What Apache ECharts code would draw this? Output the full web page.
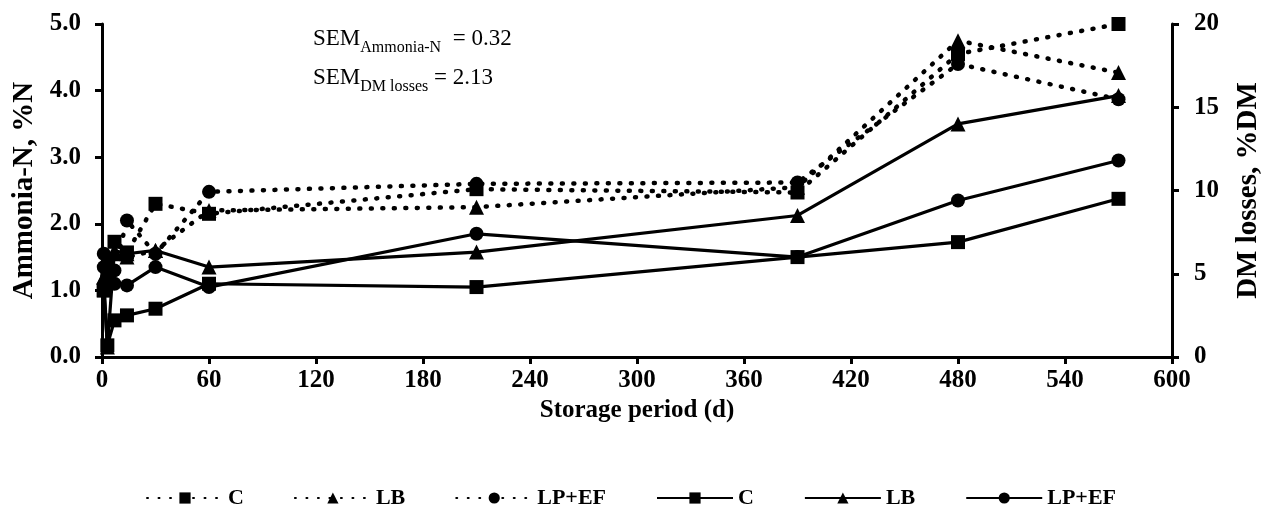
<!DOCTYPE html>
<html>
<head>
<meta charset="utf-8">
<script src="https://cdn.jsdelivr.net/npm/echarts@6/dist/echarts.min.js"></script>
<style>
  html, body { margin: 0; padding: 0; background: #fff; }
  #chart { width: 1262px; height: 517px; }
</style>
</head>
<body>
<div id="chart"></div>
<script>
// storage days
const days = [1, 3, 7, 14, 30, 60, 210, 390, 480, 570]

// Ammonia-N, %N (dotted, left axis)
const nh3C = [1.0, 1.3, 1.73, 1.57, 2.3, 2.15, 2.52, 2.47, 4.55, 5.0]
const nh3LB = [1.2, 1.5, 1.55, 1.5, 1.6, 2.2, 2.25, 2.55, 4.75, 4.27]
const nh3LPEF = [1.55, 1.2, 1.3, 2.05, 1.55, 2.48, 2.6, 2.62, 4.4, 3.87]

// DM losses, %DM (solid, right axis)
const dmC = [4.0, 0.7, 2.2, 2.5, 2.9, 4.4, 4.2, 6.0, 6.9, 9.5]
const dmLB = [4.8, 0.6, 6.4, 6.2, 6.4, 5.4, 6.3, 8.5, 14.0, 15.7]
const dmLPEF = [5.4, 4.6, 4.4, 4.3, 5.4, 4.2, 7.4, 6.0, 9.4, 11.8]

const xTicks = [0, 600, 60]
const leftTicks = [0, 5, 1]
const rightTicks = [0, 20, 5]

const serif = 'Liberation Serif'
const pair = (ys) => days.map((d, i) => [d, ys[i]])

function makeSeries(name, ys, symbol, dotted, axis) {
  return {
    name: name,
    type: 'line',
    yAxisIndex: axis,
    data: pair(ys),
    symbol: symbol,
    symbolSize: symbol === 'triangle' ? 15 : 14,
    itemStyle: { color: '#000' },
    lineStyle: dotted
      ? { color: '#000', width: 4.5, type: [1, 10.5], cap: 'round' }
      : { color: '#000', width: 3.2 },
    animation: false
  }
}

const series = [
  makeSeries('C#n', nh3C, 'rect', true, 0),
  makeSeries('LB#n', nh3LB, 'triangle', true, 0),
  makeSeries('LP+EF#n', nh3LPEF, 'circle', true, 0),
  makeSeries('C#d', dmC, 'rect', false, 1),
  makeSeries('LB#d', dmLB, 'triangle', false, 1),
  makeSeries('LP+EF#d', dmLPEF, 'circle', false, 1)
]

const tickFont = { color: '#000', fontFamily: serif, fontWeight: 'bold', fontSize: 25 }
const nameFont = { color: '#000', fontFamily: serif, fontWeight: 'bold', fontSize: 29 }
const axisLine = { show: true, lineStyle: { color: '#000', width: 3 } }
const axisTick = { show: true, inside: false, length: 7, lineStyle: { color: '#000', width: 3 } }

const semRich = {
  a: { fontFamily: serif, fontSize: 23, fill: '#000', lineHeight: 30, verticalAlign: 'bottom' },
  s: { fontFamily: serif, fontSize: 16, fill: '#000', lineHeight: 30, verticalAlign: 'bottom', padding: [0, 0, -6, 0] }
}

const chart = echarts.init(document.getElementById('chart'))
chart.setOption({
  backgroundColor: '#fff',
  animation: false,
  grid: { left: 102, right: 90, top: 24, bottom: 160, outerBoundsMode: 'none', containLabel: false },
  legend: {
    data: series.map(s => s.name),
    left: 'center',
    bottom: 3,
    itemWidth: 76,
    itemHeight: 14,
    itemGap: 50,
    formatter: name => name.split('#')[0],
    textStyle: { color: '#000', fontFamily: serif, fontWeight: 'bold', fontSize: 22 }
  },
  xAxis: {
    type: 'value',
    min: xTicks[0],
    max: xTicks[1],
    interval: xTicks[2],
    name: 'Storage period (d)',
    nameLocation: 'middle',
    nameGap: 40,
    nameTextStyle: Object.assign({}, tickFont),
    axisLine: axisLine,
    axisTick: axisTick,
    axisLabel: Object.assign({ margin: 11 }, tickFont),
    splitLine: { show: false }
  },
  yAxis: [
    {
      type: 'value',
      position: 'left',
      min: leftTicks[0],
      max: leftTicks[1],
      interval: leftTicks[2],
      name: 'Ammonia-N, %N',
      nameLocation: 'middle',
      nameGap: 60,
      nameTextStyle: nameFont,
      axisLine: axisLine,
      axisTick: axisTick,
      axisLabel: Object.assign({ margin: 21, formatter: v => v.toFixed(1) }, tickFont),
      splitLine: { show: false }
    },
    {
      type: 'value',
      position: 'right',
      min: rightTicks[0],
      max: rightTicks[1],
      interval: rightTicks[2],
      name: 'DM losses, %DM',
      nameLocation: 'middle',
      nameRotate: 90,
      nameGap: 62,
      nameTextStyle: nameFont,
      axisLine: axisLine,
      axisTick: axisTick,
      axisLabel: Object.assign({ margin: 22 }, tickFont),
      splitLine: { show: false }
    }
  ],
  graphic: [
    {
      type: 'text',
      left: 313,
      top: 27,
      style: { text: '{a|SEM}{s|Ammonia-N}{a|  = 0.32}', rich: semRich }
    },
    {
      type: 'text',
      left: 313,
      top: 66,
      style: { text: '{a|SEM}{s|DM losses}{a| = 2.13}', rich: semRich }
    }
  ],
  series: series
})
</script>
</body>
</html>
